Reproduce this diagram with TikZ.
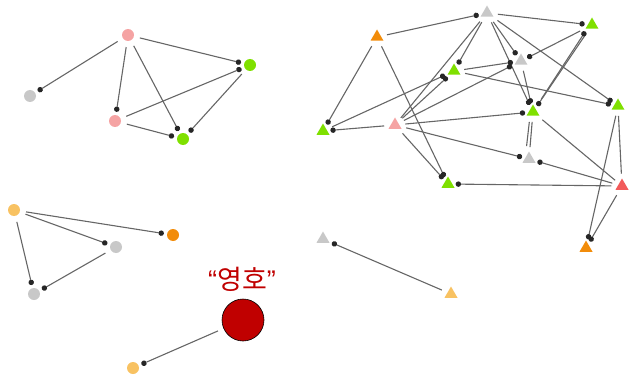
\documentclass[tikz,border=0pt]{standalone}
\usepackage{fontspec}
\newfontfamily\kofont{Noto Sans CJK KR}
\newfontfamily\qfont{Liberation Sans}
\usetikzlibrary{arrows.meta,shapes.geometric}
\definecolor{cpink}{HTML}{F5A3A3}
\definecolor{cgreen}{HTML}{7FE000}
\definecolor{cgray}{HTML}{C8C8C8}
\definecolor{corange}{HTML}{F28C0A}
\definecolor{cyellow}{HTML}{F8C262}
\definecolor{cred}{HTML}{F25A5A}
\definecolor{cdark}{HTML}{C00000}
\definecolor{cedge}{HTML}{666666}
\tikzset{
  dot/.style={circle,inner sep=0pt,minimum size=12pt,fill=#1},
  tri/.style={regular polygon,regular polygon sides=3,inner sep=0pt,minimum size=15pt,fill=#1},
  link/.style={draw=cedge,line width=1.1pt,-{Circle[length=5.5pt,width=5.5pt,fill=black!85,line width=0pt]},shorten >=3pt,shorten <=6pt},
  plain/.style={draw=cedge,line width=1.1pt,shorten >=5pt,shorten <=6pt},
}
\begin{document}
\begin{tikzpicture}[x=1pt,y=-1pt]
\useasboundingbox (0,0) rectangle (631,385);
% top-left cluster
\node[dot=cpink] (A) at (128,35) {};
\node[dot=cgray] (B) at (30,96) {};
\node[dot=cpink] (C) at (115,121) {};
\node[dot=cgreen] (D) at (183,139) {};
\node[dot=cgreen] (E) at (250,65) {};
\draw[link] (A) -- (B);
\draw[link] (A) -- (C);
\draw[link] (A) -- (D);
\draw[link] (A) -- (E);
\draw[link] (C) -- (E);
\draw[link] (C) -- (D);
\draw[link] (E) -- (D);
% bottom-left cluster
\node[dot=cyellow] (F) at (14,210) {};
\node[dot=corange] (G) at (173,235) {};
\node[dot=cgray] (H) at (116,247) {};
\node[dot=cgray] (I) at (34,294) {};
\node[circle,fill=cdark,draw=black,line width=0.6pt,minimum size=42pt,inner sep=0pt] (J) at (243,320) {};
\node[dot=cyellow] (K) at (133,368) {};
\node[text=cdark,font=\kofont\fontsize{27}{29}\selectfont,inner sep=0pt] (lbl) at (242,279) {{\qfont “}영호{\qfont ”}};
\draw[link] (F) -- (G);
\draw[link] (F) -- (H);
\draw[link] (F) -- (I);
\draw[link] (H) -- (I);
\draw[link] (J) -- (K);
% right cluster
\node[tri=corange] (T1) at (377,37) {};
\node[tri=cgray] (T2) at (487,13) {};
\node[tri=cgreen] (T3) at (592,25) {};
\node[tri=cgray] (T4) at (521,61) {};
\node[tri=cgreen] (T5) at (454,71) {};
\node[tri=cgreen] (T6) at (618,106) {};
\node[tri=cgreen] (T7) at (533,112) {};
\node[tri=cpink] (T8) at (395,125) {};
\node[tri=cgreen] (T9) at (323,131) {};
\node[tri=cgray] (T10) at (529,159) {};
\node[tri=cgreen] (T11) at (448,184) {};
\node[tri=cred] (T12) at (622,186) {};
\node[tri=corange] (T13) at (586,248) {};
\node[tri=cgray] (T14) at (323,239) {};
\node[tri=cyellow] (T15) at (451,294) {};
\draw[link] (T1) -- (T2);
\draw[link] (T2) -- (T3);
\draw[link] (T2) -- (T6);
\draw[link] (T2) -- (T5);
\draw[plain] (T2) -- (T8);
\draw[link] (T2) -- (T4);
\draw[link] (T2) -- (T7);
\draw[link] (T3) -- (T4);
\draw[link] (T3) -- (T7);
\draw[link] ([xshift=5pt]T7.north) -- ([xshift=-5pt]T3.south);
\draw[link] (T4) -- (T7);
\draw[link] (T5) -- (T6);
\draw[link] (T5) -- (T4);
\draw[link] (T8) -- (T4);
\draw[link] (T8) -- (T9);
\draw[link] (T1) -- (T9);
\draw[link] (T1) -- (T11);
\draw[link] (T8) -- (T11);
\draw[link] (T9) -- (T5);
\draw[link] (T8) -- (T5);
\draw[link] (T8) -- (T7);
\draw[link] (T8) -- (T10);
\draw[link] (T12) -- (T11);
\draw[link] (T12) -- (T10);
\draw[plain] (T7) -- (T12);
\draw[link] (T6) -- (T13);
\draw[plain] (T6) -- (T12);
\draw[link] (T12) -- (T13);
\draw[plain] (T7) -- (T10);
\draw[plain] ([xshift=-3pt]T7.south) -- ([xshift=-3pt]T10.north);
\draw[link] (T15) -- (T14);
\end{tikzpicture}
\end{document}
